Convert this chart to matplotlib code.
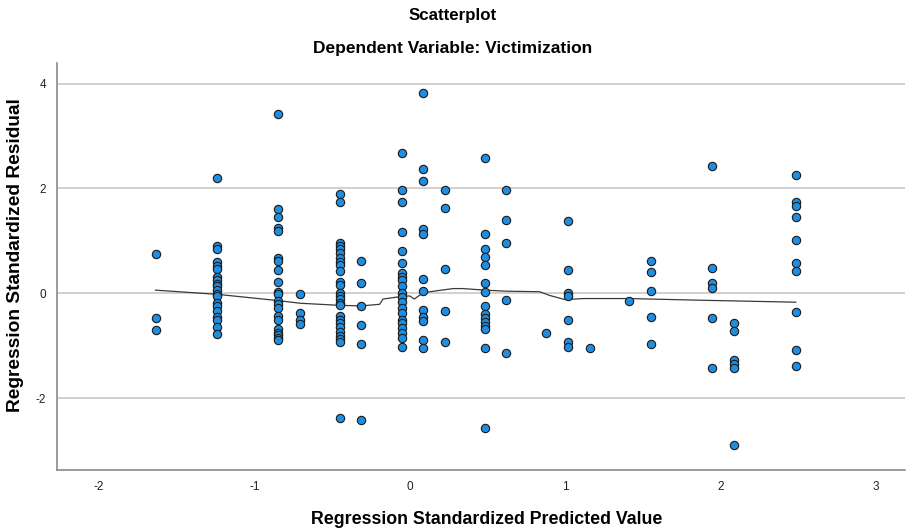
import numpy as np
import matplotlib
matplotlib.use('Agg')
import matplotlib.pyplot as plt

plt.rcParams['font.family'] = ['Liberation Sans', 'DejaVu Sans']
plt.rcParams['axes.unicode_minus'] = False

# predicted value columns (standardized) and the residuals sitting on each
col_x = [-1.636, -1.238, -0.845, -0.704, -0.451, -0.311, -0.052, 0.086, 0.225,
         0.485, 0.623, 0.876, 1.019, 1.159, 1.412, 1.554, 1.949, 2.088, 2.486]

col_res = [
    [0.75, -0.48, -0.70],
    [2.20, 0.90, 0.84, 0.60, 0.53, 0.46, 0.32, 0.25, 0.18, 0.14, 0.06, -0.02,
     -0.06, -0.19, -0.25, -0.33, -0.46, -0.51, -0.64, -0.78],
    [3.42, 1.61, 1.46, 1.25, 1.19, 0.68, 0.62, 0.44, 0.22, 0.02, -0.02, -0.15,
     -0.21, -0.29, -0.43, -0.51, -0.69, -0.75, -0.79, -0.86, -0.89],
    [-0.01, -0.37, -0.51, -0.58],
    [1.89, 1.75, 0.96, 0.90, 0.84, 0.77, 0.67, 0.60, 0.54, 0.43, 0.22, 0.16,
     0.00, -0.05, -0.11, -0.18, -0.23, -0.43, -0.50, -0.56, -0.65, -0.73,
     -0.81, -0.88, -0.93, -2.38],
    [0.62, 0.19, -0.24, -0.60, -0.97, -2.41],
    [2.68, 1.97, 1.75, 1.16, 0.80, 0.58, 0.38, 0.32, 0.25, 0.13, 0.00, -0.08,
     -0.16, -0.29, -0.37, -0.50, -0.57, -0.67, -0.76, -0.85, -1.02],
    [3.82, 2.37, 2.15, 1.22, 1.14, 0.27, 0.05, -0.32, -0.46, -0.52, -0.89, -1.04],
    [1.98, 1.62, 0.46, -0.34, -0.92],
    [2.58, 1.13, 0.84, 0.69, 0.54, 0.19, 0.03, -0.24, -0.39, -0.48, -0.54,
     -0.62, -0.69, -1.05, -2.57],
    [1.98, 1.39, 0.95, -0.13, -1.14],
    [-0.76],
    [1.38, 0.44, 0.01, -0.06, -0.50, -0.92, -1.02],
    [-1.04],
    [-0.15],
    [0.62, 0.40, 0.04, -0.46, -0.97],
    [2.42, 0.48, 0.19, 0.11, -0.48, -1.42],
    [-0.57, -0.71, -1.27, -1.35, -1.43, -2.89],
    [2.25, 1.75, 1.67, 1.45, 1.02, 0.58, 0.43, -0.36, -1.09, -1.38],
]

# fit line through the cloud
fit_x = [-1.636, -1.238, -0.845, -0.704, -0.451, -0.311, -0.193, -0.172,
         -0.052, 0.0, 0.03, 0.086, 0.18, 0.28, 0.343, 0.485, 0.623, 0.837,
         0.90, 1.0, 1.12, 1.41, 1.84, 2.486]
fit_y = [0.06, -0.02, -0.14, -0.19, -0.23, -0.24, -0.21, -0.11,
         -0.06, -0.05, -0.11, 0.01, 0.05, 0.09, 0.09, 0.06, 0.04, 0.03,
         -0.04, -0.12, -0.10, -0.10, -0.13, -0.17]

x_ticks = [-2, -1, 0, 1, 2, 3]
y_ticks = [-2, 0, 2, 4]

xs = np.concatenate([[x] * len(r) for x, r in zip(col_x, col_res)])
ys = np.concatenate(col_res)

fig = plt.figure(figsize=(9.06, 5.31), dpi=100)
ax = fig.add_axes([0.063, 0.115, 0.936, 0.766])

for yt in y_ticks:
    ax.axhline(yt, color='#c8c8c8', lw=1.2, zorder=0)

ax.plot(fit_x, fit_y, color='#3a3a3a', lw=0.9, zorder=2)
ax.scatter(xs, ys, s=36, color='#1f8ee0', edgecolors='#1a1a1a',
           linewidths=0.8, zorder=3)

ax.set_xlim(-2.27, 3.19)
ax.set_ylim(-3.37, 4.39)
ax.set_xticks(x_ticks)
ax.set_yticks(y_ticks)
ax.tick_params(length=0, labelsize=8.5, pad=8, colors='#222222')

for s in ['top', 'right']:
    ax.spines[s].set_visible(False)
for s in ['left', 'bottom']:
    ax.spines[s].set_color('#8a8a8a')
    ax.spines[s].set_linewidth(1.2)

ax.set_xlabel('Regression Standardized Predicted Value', fontsize=12.8,
              fontweight='bold')
ax.set_ylabel('Regression Standardized Residual', fontsize=13.8,
              fontweight='bold')
ax.xaxis.set_label_coords(0.507, -0.1)
ax.yaxis.set_label_coords(-0.039, 0.528)

fig.text(0.5, 0.971, 'Scatterplot', ha='center', va='center',
         fontsize=12.2, fontweight='bold')
fig.text(0.5, 0.908, 'Dependent Variable: Victimization', ha='center',
         va='center', fontsize=12.5, fontweight='bold')

fig.savefig('out.png', dpi=100)
